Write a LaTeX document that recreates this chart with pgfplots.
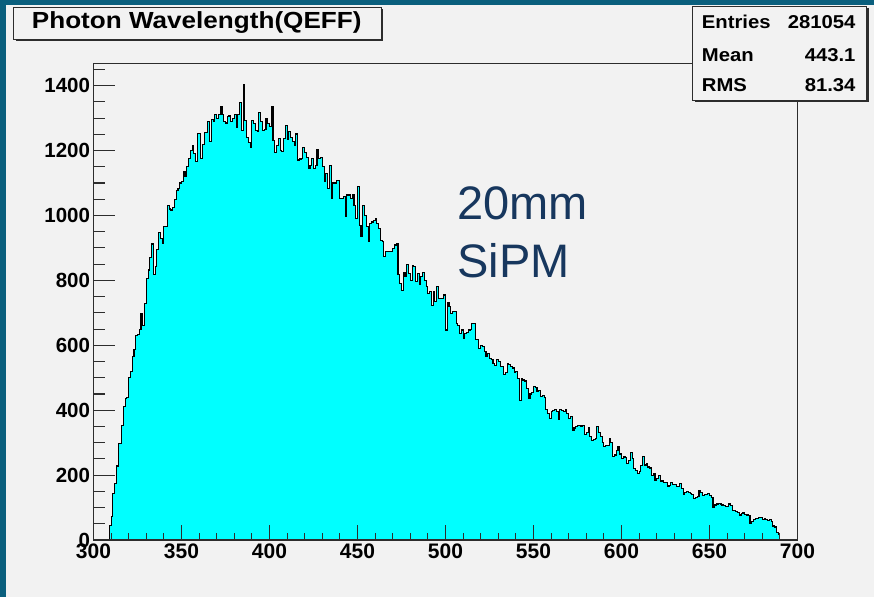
\documentclass[border=0pt]{standalone}
\usepackage{fontspec}
\setmainfont{Liberation Sans}
\usepackage{graphicx}
\usepackage{pgfplots}
\pgfplotsset{compat=1.18}
\definecolor{tealB}{RGB}{10,95,125}
\definecolor{bgG}{RGB}{242,242,242}
\definecolor{cyanF}{RGB}{0,255,255}
\definecolor{txtB}{RGB}{23,55,94}
\definecolor{frameC}{RGB}{45,45,45}
\begin{document}
\begin{tikzpicture}
\fill[bgG] (0,0) rectangle (874pt,597pt);
\fill[tealB] (0,0) rectangle (6pt,597pt);
\fill[tealB] (0,592pt) rectangle (874pt,597pt);
\begin{axis}[
  at={(93.5pt,57pt)}, anchor=south west,
  width=704pt, height=476.7pt, scale only axis,
  xmin=300, xmax=700, ymin=0, ymax=1469,
  axis on top,
  axis background/.style={fill=bgG},
  xtick={300,350,...,700},
  minor xtick={310,320,330,340,360,370,380,390,410,420,430,440,460,470,480,490,510,520,530,540,560,570,580,590,610,620,630,640,660,670,680,690},
  ytick=\empty,
  tick align=inside, xtick pos=bottom,
  major tick length=15pt, minor tick length=7.3pt,
  axis line style={line width=1.2pt, draw=frameC},
  every tick/.style={line width=1.1pt, draw=frameC},
  ticklabel style={font=\fontsize{21}{21}\selectfont\bfseries},
  /pgf/number format/assume math mode=true,
  /pgf/number format/1000 sep={},
]
\addplot[const plot mark left, fill=cyanF, draw=black, line width=1.1pt] coordinates {
(300,0) (309,46) (310,72) (311,144) (312,175) (313,228) (314,298) (315,298) (316,354) (317,411) (318,437) (319,440)
(320,500) (321,519) (322,565) (323,588) (324,629) (325,632) (326,650) (327,699) (328,660) (329,729)
(330,806) (331,832) (332,870) (333,912) (334,817) (335,842) (336,896) (337,947) (338,930) (339,915)
(340,966) (341,966) (342,1032) (343,1020) (344,1017) (345,1025) (346,1050) (347,1076) (348,1083) (349,1100)
(350,1104) (351,1135) (352,1120) (353,1150) (354,1176) (355,1200) (356,1217) (357,1190) (358,1166) (359,1253)
(360,1253) (361,1176) (362,1220) (363,1255) (364,1255) (365,1289) (366,1227) (367,1295) (368,1290) (369,1310)
(370,1300) (371,1310) (372,1335) (373,1310) (374,1290) (375,1285) (376,1305) (377,1308) (378,1290) (379,1300)
(380,1310) (381,1270) (382,1310) (383,1349) (384,1263) (385,1404) (386,1294) (387,1240) (388,1225) (389,1211)
(390,1294) (391,1284) (392,1263) (393,1260) (394,1316) (395,1290) (396,1263) (397,1266) (398,1299) (399,1284)
(400,1274) (401,1337) (402,1232) (403,1193) (404,1215) (405,1238) (406,1199) (407,1197) (408,1238) (409,1276)
(410,1233) (411,1258) (412,1240) (413,1227) (414,1217) (415,1251) (416,1171) (417,1174) (418,1177) (419,1210)
(420,1195) (421,1180) (422,1145) (423,1155) (424,1175) (425,1145) (426,1155) (427,1202) (428,1175) (429,1180)
(430,1150) (431,1104) (432,1130) (433,1083) (434,1155) (435,1053) (436,1100) (437,1100) (438,1107) (439,1107)
(440,1053) (441,1053) (442,1058) (443,996) (444,1063) (445,1063) (446,1053) (447,1063) (448,1032) (449,990)
(450,1089) (451,970) (452,936) (453,1032) (454,1000) (455,965) (456,919) (457,975) (458,980) (459,985)
(460,990) (461,975) (462,960) (463,924) (464,919) (465,873) (466,890) (467,889) (468,889) (469,889)
(470,899) (471,909) (472,914) (473,817) (474,790) (475,770) (476,824) (477,812) (478,848) (479,820)
(480,801) (481,846) (482,843) (483,796) (484,822) (485,786) (486,812) (487,824) (488,800) (489,781)
(490,760) (491,765) (492,724) (493,765) (494,735) (495,781) (496,745) (497,745) (498,745) (499,755)
(500,647) (501,732) (502,720) (503,699) (504,705) (505,705) (506,668) (507,662) (508,637) (509,647)
(510,622) (511,637) (512,640) (513,647) (514,650) (515,668) (516,668) (517,617) (518,617) (519,591)
(520,600) (521,595) (522,581) (523,565) (524,575) (525,560) (526,555) (527,545) (528,537) (529,555)
(530,550) (531,534) (532,534) (533,509) (534,515) (535,545) (536,540) (537,534) (538,530) (539,515)
(540,520) (541,498) (542,431) (543,498) (544,493) (545,490) (546,468) (547,437) (548,450) (549,455)
(550,474) (551,470) (552,457) (553,460) (554,442) (555,445) (556,440) (557,401) (558,390) (559,375)
(560,396) (561,398) (562,401) (563,395) (564,370) (565,401) (566,398) (567,396) (568,401) (569,390)
(570,375) (571,380) (572,339) (573,345) (574,349) (575,352) (576,354) (577,350) (578,353) (579,324)
(580,330) (581,345) (582,320) (583,308) (584,310) (585,312) (586,349) (587,330) (588,318) (589,300)
(590,288) (591,290) (592,292) (593,313) (594,300) (595,257) (596,262) (597,275) (598,288) (599,265)
(600,252) (601,258) (602,255) (603,236) (604,245) (605,270) (606,250) (607,221) (608,215) (609,205)
(610,210) (611,230) (612,257) (613,231) (614,235) (615,225) (616,222) (617,200) (618,205) (619,185)
(620,190) (621,198) (622,180) (623,182) (624,176) (625,178) (626,164) (627,167) (628,178) (629,172)
(630,170) (631,164) (632,166) (633,175) (634,160) (635,139) (636,145) (637,149) (638,147) (639,143)
(640,140) (641,128) (642,132) (643,135) (644,152) (645,145) (646,136) (647,140) (648,139) (649,142)
(650,136) (651,130) (652,100) (653,108) (654,111) (655,113) (656,111) (657,108) (658,106) (659,104)
(660,102) (661,111) (662,106) (663,90) (664,92) (665,88) (666,85) (667,77) (668,82) (669,84)
(670,79) (671,77) (672,75) (673,51) (674,58) (675,64) (676,66) (677,65) (678,70) (679,68)
(680,62) (681,66) (682,64) (683,60) (684,62) (685,58) (686,43) (687,40) (688,23) (689,18)
(690,0) (700,0)
} \closedcycle;
\end{axis}
\begin{axis}[
  at={(93.5pt,57pt)}, anchor=south west,
  width=704pt, height=476.7pt, scale only axis,
  xmin=300, xmax=700, ymin=0, ymax=1469,
  xtick=\empty,
  ytick={0,200,...,1400},
  minor ytick={50,100,150,250,300,350,450,500,550,650,700,750,850,900,950,1050,1100,1150,1250,1300,1350,1450},
  tick align=inside, ytick pos=left,
  major tick length=21pt, minor tick length=11pt,
  axis line style={line width=1.2pt, draw=frameC},
  every tick/.style={line width=1.1pt, draw=frameC},
  ticklabel style={font=\fontsize{20.5}{20.5}\selectfont\bfseries},
  /pgf/number format/assume math mode=true,
  /pgf/number format/1000 sep={},
]
\end{axis}
% title box
\fill[frameC] (15.5pt,555.8pt) rectangle (383.2pt,588pt);
\filldraw[fill=bgG, draw=frameC, line width=0.8pt] (13.3pt,558pt) rectangle (381pt,590pt);
\node[anchor=base west, inner sep=0pt] at (31.7pt,568.7pt) {\scalebox{1.12}[1]{\fontsize{23.3}{23.3}\selectfont\bfseries Photon Wavelength(QEFF)}};
% stats box
\fill[frameC] (694.5pt,494.8pt) rectangle (868.9pt,589pt);
\filldraw[fill=bgG, draw=frameC, line width=0.8pt] (692.3pt,497pt) rectangle (866.7pt,591pt);
\node[anchor=base west, inner sep=0pt] at (701.7pt,568.7pt) {\scalebox{1.09}[1]{\fontsize{18.6}{18.6}\selectfont\bfseries Entries}};
\node[anchor=base east, inner sep=0pt] at (855.7pt,568.7pt) {\scalebox{1.09}[1]{\fontsize{18.6}{18.6}\selectfont\bfseries 281054}};
\node[anchor=base west, inner sep=0pt] at (701.7pt,535.3pt) {\scalebox{1.09}[1]{\fontsize{18.6}{18.6}\selectfont\bfseries Mean}};
\node[anchor=base east, inner sep=0pt] at (855.7pt,535.3pt) {\scalebox{1.09}[1]{\fontsize{18.6}{18.6}\selectfont\bfseries 443.1}};
\node[anchor=base west, inner sep=0pt] at (701.7pt,505.3pt) {\scalebox{1.09}[1]{\fontsize{18.6}{18.6}\selectfont\bfseries RMS}};
\node[anchor=base east, inner sep=0pt] at (855.7pt,505.3pt) {\scalebox{1.09}[1]{\fontsize{18.6}{18.6}\selectfont\bfseries 81.34}};
% annotation
\node[anchor=base west, inner sep=0pt, text=txtB] at (457.3pt,377pt) {\fontsize{47}{47}\selectfont 20mm};
\node[anchor=base west, inner sep=0pt, text=txtB] at (457.3pt,319.7pt) {\fontsize{47}{47}\selectfont SiPM};
\pgfresetboundingbox
\useasboundingbox (0,0) rectangle (874pt,597pt);
\end{tikzpicture}
\end{document}
